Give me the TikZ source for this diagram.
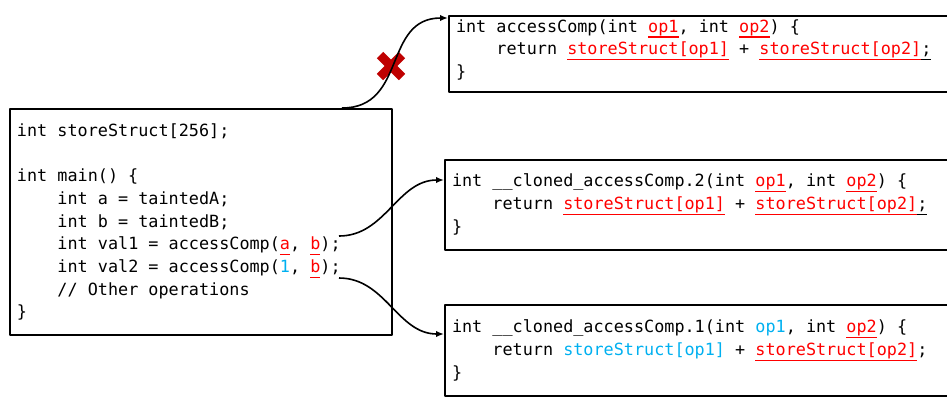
\documentclass[tikz,border=0pt]{standalone}
\usepackage{fontspec}
\setmonofont{DejaVu Sans Mono}
\usepackage{tikz}
\usetikzlibrary{arrows.meta}
\definecolor{ffqqqq}{rgb}{1.,0.,0.}
\definecolor{qqbbff}{rgb}{0.,0.69,0.94}
\definecolor{bbqqqq}{rgb}{0.75,0.,0.}
\newcommand{\ulbox}[1]{\setbox0=\hbox{#1}\rlap{\rule[-2.7pt]{\wd0}{0.6pt}}\box0}
\newcommand{\tnt}[1]{\textcolor{ffqqqq}{\ulbox{#1}}}
\newcommand{\cst}[1]{\textcolor{qqbbff}{#1}}
\newcommand{\ulsemi}{\ulbox{;}}
\newcommand{\ind}{\hphantom{xxxx}}
\newcommand{\codefont}{\ttfamily\fontsize{8.4}{11.35}\selectfont}
\newcommand{\codespaces}{\frenchspacing\spaceskip=\fontcharwd\font`x\relax\xspaceskip=\spaceskip}
\tikzset{every node/.style={font=\codefont}}

\begin{document}
\begin{tikzpicture}[line cap=butt,line join=round,x=0.5pt,y=-0.5pt,
  codebox/.style={draw,line width=1pt,align=left,inner xsep=3.5pt,inner ysep=0pt,anchor=north west,
    execute at begin node=\codespaces},
  conn/.style={line width=0.8pt,-{Latex[length=4pt,width=3.2pt]}}]
\useasboundingbox (0,0) rectangle (947,398);
\clip (0,0) rectangle (947,398);
\node [codebox,text width=184pt,minimum height=113pt] (main) at (9,108) {int storeStruct[256];\\[11.35pt]
int main() \{\\
\ind int a = taintedA;\\
\ind int b = taintedB;\\
\ind int val1 = accessComp(\tnt{a}, \tnt{b});\\
\ind int val2 = accessComp(\cst{1}, \tnt{b});\\
\ind // Other operations\\
\}};
\node [codebox,text width=260pt,minimum height=38pt] (acc) at (448,15) {int accessComp(int \tnt{op1}, int \tnt{op2}) \{\\
\ind return \tnt{storeStruct[op1]} + \tnt{storeStruct[op2]}\ulsemi\\
\}\rule[-5.5pt]{0pt}{0pt}};
\node [codebox,text width=260pt,minimum height=45pt] (clonetwo) at (444,159) {int \_\_cloned\_accessComp.2(int \tnt{op1}, int \tnt{op2}) \{\\
\ind return \tnt{storeStruct[op1]} + \tnt{storeStruct[op2]}\ulsemi\\
\}\rule[-2pt]{0pt}{0pt}};
\node [codebox,text width=260pt,minimum height=45.5pt] (cloneone) at (444,304) {int \_\_cloned\_accessComp.1(int \cst{op1}, int \tnt{op2}) \{\\
\ind return \cst{storeStruct[op1]} + \tnt{storeStruct[op2]};\\
\}};
\coordinate (callone) at (339,236);
\coordinate (calltwo) at (339,278);
\coordinate (cut) at (391,66);
\draw [line width=4.5pt,color=bbqqqq] (cut) ++(-11,-11) -- ++(22,22);
\draw [line width=4.5pt,color=bbqqqq] (cut) ++(-11,11) -- ++(22,-22);
\draw [conn] ([xshift=-25.5pt]main.north east) to[out=0,in=180,looseness=1.2] ([yshift=-1.5pt]acc.north west);
\draw [conn] (callone) to[out=0,in=180] ([yshift=-10.5pt]clonetwo.north west);
\draw [conn] (calltwo) to[out=0,in=180] ([yshift=-15pt]cloneone.north west);
\end{tikzpicture}
\end{document}
